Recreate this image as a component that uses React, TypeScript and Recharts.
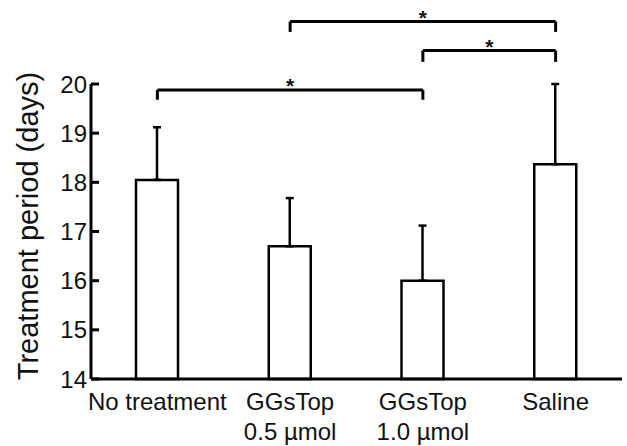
import { Bar, BarChart, ErrorBar, ReferenceLine, XAxis, YAxis } from "recharts";

const categories = ["No treatment", "GGsTop\n0.5 µmol", "GGsTop\n1.0 µmol", "Saline"];
const means = [18.05, 16.7, 16.0, 18.37];
const sdUp = [1.07, 0.98, 1.12, 1.63];
const yTicks = [14, 15, 16, 17, 18, 19, 20];

// significance brackets: from / to category index, bar height, leg bottom
const brackets = [
  { from: 0, to: 2, y: 19.88, leg: 19.68 },
  { from: 2, to: 3, y: 20.68, leg: 20.45 },
  { from: 1, to: 3, y: 21.27, leg: 21.06 },
];

const data = categories.map((name, i) => ({
  name,
  mean: means[i],
  err: [0, sdUp[i]],
}));

const FONT = "'Liberation Sans', Arial, sans-serif";

function YTick({ x, y, payload }: any) {
  return (
    <g>
      <line x1={x} y1={y} x2={x + 8} y2={y} stroke="#000" strokeWidth={3} />
      <text x={x - 4} y={y} textAnchor="end" dominantBaseline="central" fontSize={24} fontFamily={FONT} fill="#111">
        {payload.value}
      </text>
    </g>
  );
}

function XTick({ x, y, payload }: any) {
  const lines = String(payload.value).split("\n");
  return (
    <g>
      {lines.map((l, i) => (
        <text key={i} x={x} y={y + 31 + i * 30} textAnchor="middle" fontSize={24} fontFamily={FONT} fill="#111">
          {l}
        </text>
      ))}
    </g>
  );
}

export default function App() {
  return (
    <div style={{ position: "absolute", left: 0, top: 0, background: "#fff" }}>
      <BarChart width={627} height={446} data={data} margin={{ top: 84, right: 5, bottom: 7, left: 0 }}>
        <XAxis
          dataKey="name"
          height={60}
          tickLine={false}
          tickSize={0}
          tickMargin={0}
          axisLine={{ stroke: "#000", strokeWidth: 3 }}
          tick={<XTick />}
          interval={0}
        />
        <YAxis
          width={91}
          domain={[14, 20]}
          ticks={yTicks}
          tickLine={false}
          tickSize={0}
          tickMargin={0}
          axisLine={{ stroke: "#000", strokeWidth: 3 }}
          tick={<YTick />}
          label={{
            value: "Treatment period (days)",
            angle: -90,
            position: "center",
            dx: -17.5,
            dy: -5.5,
            fontSize: 29,
            fontFamily: FONT,
            fill: "#111",
          }}
        />
        <Bar dataKey="mean" fill="#fff" stroke="#000" strokeWidth={2.5} barSize={42} isAnimationActive={false}>
          <ErrorBar dataKey="err" direction="y" width={4} stroke="#000" strokeWidth={2.5} isAnimationActive={false} />
        </Bar>
        {brackets.map((b, i) => (
          <ReferenceLine
            key={`h${i}`}
            segment={[
              { x: categories[b.from], y: b.y },
              { x: categories[b.to], y: b.y },
            ]}
            stroke="#000"
            strokeWidth={3}
            ifOverflow="visible"
            label={{ value: "*", position: "top", offset: -3, fontSize: 21, fontWeight: "bold", fontFamily: FONT, fill: "#111" }}
          />
        ))}
        {brackets.flatMap((b, i) =>
          [b.from, b.to].map((c) => (
            <ReferenceLine
              key={`l${i}-${c}`}
              segment={[
                { x: categories[c], y: b.y },
                { x: categories[c], y: b.leg },
              ]}
              stroke="#000"
              strokeWidth={3}
              ifOverflow="visible"
            />
          ))
        )}
      </BarChart>
    </div>
  );
}
